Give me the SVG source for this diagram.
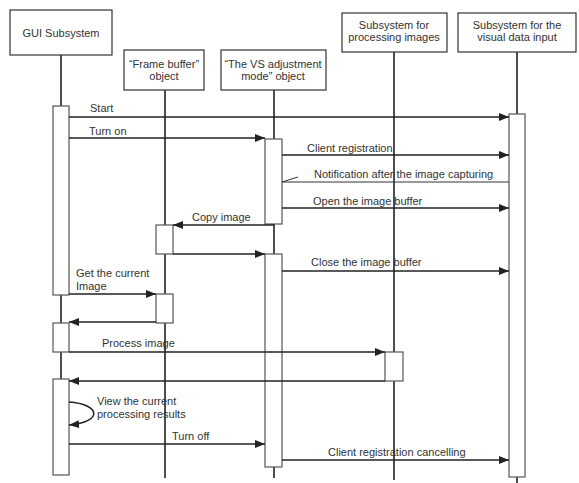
<svg xmlns="http://www.w3.org/2000/svg" width="579" height="483" viewBox="0 0 579 483">
<defs>
<marker id="ah" markerWidth="10" markerHeight="8" refX="10" refY="4" orient="auto" markerUnits="userSpaceOnUse">
<path d="M0,0 L10,4 L0,8 Z" fill="#222"/>
</marker>
<style>
.box{fill:#fff;stroke:#333;stroke-width:1.2}
.act{fill:#fff;stroke:#555;stroke-width:1.2}
.life{stroke:#222;stroke-width:1.6;fill:none}
.msg{stroke:#222;stroke-width:1.5;fill:none}
.arr{marker-end:url(#ah)}
text{font-family:"Liberation Sans",Arial,sans-serif;font-size:11px;fill:#333}
.c{text-anchor:middle}
</style>
</defs>
<rect width="579" height="483" fill="#fff"/>
<g id="lifelines">
<path class="life" d="M61,55 V106 M61,295 V323 M61,352 V379"/>
<path class="life" d="M165,90 V225 M165,254 V294 M165,323 V478"/>
<path class="life" d="M274,90 V139 M274,224 V254 M274,467 V478"/>
<path class="life" d="M394,52 V352 M394,381 V480"/>
<path class="life" d="M517,52 V114 M517,477 V483"/>
</g>
<g id="gui">
<rect class="box" x="10" y="10" width="102" height="45"/>
<text class="c" x="61" y="37">GUI Subsystem</text>
</g>
<g id="framebuffer">
<rect class="box" x="124" y="50" width="80" height="40"/>
<text class="c" x="164" y="68">“Frame buffer”</text>
<text class="c" x="164" y="80">object</text>
</g>
<g id="vsmode">
<rect class="box" x="221" y="50" width="105" height="40"/>
<text class="c" x="273" y="68">“The VS adjustment</text>
<text class="c" x="273" y="80">mode” object</text>
</g>
<g id="processing">
<rect class="box" x="342" y="13" width="105" height="39"/>
<text class="c" x="394" y="29">Subsystem for</text>
<text class="c" x="394" y="41">processing images</text>
</g>
<g id="visual">
<rect class="box" x="458" y="13" width="118" height="39"/>
<text class="c" x="517" y="29">Subsystem for the</text>
<text class="c" x="517" y="41">visual data input</text>
</g>
<g id="activations">
<rect class="act" x="53" y="106" width="16" height="189"/>
<rect class="act" x="53" y="323" width="16" height="29"/>
<rect class="act" x="53" y="379" width="16" height="96"/>
<rect class="act" x="509" y="114" width="16" height="363"/>
<rect class="act" x="265" y="139" width="17" height="85"/>
<rect class="act" x="265" y="254" width="17" height="213"/>
<rect class="act" x="156" y="225" width="17" height="29"/>
<rect class="act" x="156" y="294" width="17" height="29"/>
<rect class="act" x="385" y="352" width="18" height="29"/>
</g>
<g id="connectors">
<line class="msg arr" x1="69" y1="117" x2="509" y2="117"/>
<line class="msg arr" x1="69" y1="138" x2="265" y2="138"/>
<line class="msg arr" x1="282" y1="155" x2="509" y2="155"/>
<line x1="509" y1="182" x2="282" y2="182" stroke="#333" stroke-width="1"/>
<line x1="282" y1="182" x2="298" y2="177" stroke="#333" stroke-width="1"/>
<line class="msg arr" x1="282" y1="208" x2="509" y2="208"/>
<line class="msg arr" x1="274" y1="225" x2="173" y2="225"/>
<line class="msg arr" x1="173" y1="254" x2="265" y2="254"/>
<line class="msg arr" x1="282" y1="271" x2="509" y2="271"/>
<line class="msg arr" x1="69" y1="294" x2="156" y2="294"/>
<line class="msg arr" x1="156" y1="322" x2="69" y2="322"/>
<line class="msg arr" x1="69" y1="352" x2="385" y2="352"/>
<line class="msg arr" x1="385" y1="381" x2="69" y2="381"/>
<path class="msg arr" d="M69,402 C100,404 104,422 69,425"/>
<line class="msg arr" x1="69" y1="444" x2="265" y2="444"/>
<line class="msg arr" x1="282" y1="460" x2="509" y2="460"/>
</g>
<g id="labels">
<text x="90" y="112">Start</text>
<text x="89" y="135">Turn on</text>
<text x="307" y="152">Client registration</text>
<text x="314" y="178">Notification after the image capturing</text>
<text x="313" y="205">Open the image buffer</text>
<text x="192" y="221">Copy image</text>
<text x="311" y="266">Close the image buffer</text>
<text x="76" y="277">Get the current</text>
<text x="76" y="290">Image</text>
<text x="102" y="347">Process image</text>
<text x="97" y="405">View the current</text>
<text x="97" y="418">processing results</text>
<text x="172" y="440">Turn off</text>
<text x="328" y="456">Client registration cancelling</text>
</g>
</svg>
